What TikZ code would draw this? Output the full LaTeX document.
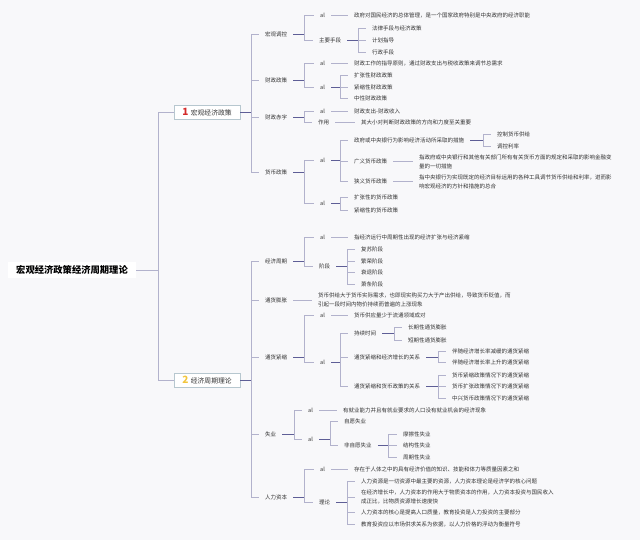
\documentclass[tikz,border=0pt]{standalone}
\usepackage{fontspec}
\setmainfont{Noto Sans CJK SC}
\definecolor{ltc}{HTML}{B2B2CC}
\definecolor{dkc}{HTML}{5E5E96}
\definecolor{tx}{HTML}{333333}
\definecolor{boxc}{HTML}{B7C7CF}
\definecolor{bg}{HTML}{F8F8FA}
\definecolor{oner}{HTML}{D42A2A}
\definecolor{twoy}{HTML}{F2C53D}
\newcommand\myfork[3]{%
  \draw[lnd] (#1.east) -- (#2,0 |- #1.east);
  \foreach \c in {#3} {\draw[lnl] (#2,0 |- #1.east) |- (\c.west);}
}
\begin{document}
\begin{tikzpicture}[x=1pt,y=-1pt,
  lnl/.style={draw=ltc, line width=0.6pt},
  lnd/.style={draw=dkc, line width=0.7pt},
  lab/.style={anchor=west, inner xsep=6pt, inner ysep=0.5pt, text=tx, font=\fontsize{5.5}{9}\selectfont, text height=4.84pt, text depth=0.66pt},
  ml/.style={anchor=west, inner xsep=6pt, inner ysep=0.5pt, text=tx, font=\fontsize{5.5}{9}\selectfont, align=left},
  br/.style={draw=boxc, fill=white, line width=0.5pt, minimum width=66pt, minimum height=14pt, inner sep=0pt, font=\fontsize{6.8}{8}\selectfont, text=tx},
  rootst/.style={fill=white, inner xsep=8pt, inner ysep=4pt, font=\fontsize{9.3}{11}\selectfont\bfseries, text=black}]
\useasboundingbox (0,0) rectangle (640,540);
\fill[bg] (0,0) rectangle (640,540);

% root and branches
\node[rootst] (root) at (72,270) {宏观经济政策经济周期理论};
\node[br] (b1) at (207,112) {\textcolor{oner}{\fontsize{10}{10}\selectfont\bfseries 1}\hspace{2.5pt}宏观经济政策};
\node[br] (b2) at (207,380) {\textcolor{twoy}{\fontsize{10}{10}\selectfont\bfseries 2}\hspace{2.5pt}经济周期理论};
\draw[lnl] (root.east) -- (158,0 |- root.east);
\draw[lnl] (158,0 |- root.east) |- (b1.west);
\draw[lnl] (158,0 |- root.east) |- (b2.west);

% ---------- branch 1 ----------
\node[lab] (n1) at (259,34) {宏观调控};
\node[lab] (n1a) at (314,15.7) {al};
\node[lab] (n1at) at (348,15.7) {政府对国民经济的总体管理，是一个国家政府特别是中央政府的经济职能};
\node[lab] (n1b) at (313,40) {主要手段};
\node[lab] (n1b1) at (366,28) {法律手段与经济政策};
\node[lab] (n1b2) at (366,40) {计划指导};
\node[lab] (n1b3) at (366,52) {行政手段};

\node[lab] (n2) at (259,80.7) {财政政策};
\node[lab] (n2a) at (314,63) {al};
\node[lab] (n2at) at (348,63) {财政工作的指导原则，通过财政支出与税收政策来调节总需求};
\node[lab] (n2b) at (314,87) {al};
\node[lab] (n2b1) at (348,75) {扩张性财政政策};
\node[lab] (n2b2) at (348,87) {紧缩性财政政策};
\node[lab] (n2b3) at (348,98.5) {中性财政政策};

\node[lab] (n3) at (259,117) {财政赤字};
\node[lab] (n3a) at (314,111) {al};
\node[lab] (n3at) at (348,111) {财政支出-财政收入};
\node[lab] (n3b) at (312,122.5) {作用};
\node[lab] (n3bt) at (355,122.5) {其大小对判断财政政策的方向和力度至关重要};

\node[lab] (n4) at (259,172) {货币政策};
\node[lab] (n4a) at (314,160) {al};
\node[lab] (n4a1) at (348,140) {政府或中央银行为影响经济活动所采取的措施};
\node[lab] (n4a1a) at (491,134) {控制货币供给};
\node[lab] (n4a1b) at (491,146) {调控利率};
\node[lab] (n4a2) at (348,161.5) {广义货币政策};
\node[ml] (n4a2t) at (413,161.5) {指政府或中央银行和其他有关部门所有有关货币方面的规定和采取的影响金融变\\量的一切措施};
\node[lab] (n4a3) at (348,181.5) {狭义货币政策};
\node[ml] (n4a3t) at (413,181.5) {指中央银行为实现既定的经济目标运用的各种工具调节货币供给和利率，进而影\\响宏观经济的方针和措施的总合};
\node[lab] (n4b) at (314,203) {al};
\node[lab] (n4b1) at (348,197) {扩张性的货币政策};
\node[lab] (n4b2) at (348,210) {紧缩性的货币政策};

\myfork{b1}{251}{n1,n2,n3,n4}
\myfork{n1}{304}{n1a,n1b}
\myfork{n1b}{358}{n1b1,n1b2,n1b3}
\myfork{n2}{304}{n2a,n2b}
\myfork{n2b}{340.7}{n2b1,n2b2,n2b3}
\myfork{n3}{304}{n3a,n3b}
\myfork{n4}{304}{n4a,n4b}
\myfork{n4a}{340.7}{n4a1,n4a2,n4a3}
\myfork{n4a1}{483}{n4a1a,n4a1b}
\myfork{n4b}{340.7}{n4b1,n4b2}
\draw[lnl] (n1a.east) -- (n1at.west);
\draw[lnl] (n2a.east) -- (n2at.west);
\draw[lnl] (n3a.east) -- (n3at.west);
\draw[lnl] (n3b.east) -- (n3bt.west);
\draw[lnl] (n4a2.east) -- (n4a2t.west);
\draw[lnl] (n4a3.east) -- (n4a3t.west);

% ---------- branch 2 ----------
\node[lab] (m1) at (259,261) {经济周期};
\node[lab] (m1a) at (314,237) {al};
\node[lab] (m1at) at (348,237) {指经济运行中周期性出现的经济扩张与经济紧缩};
\node[lab] (m1b) at (313,266) {阶段};
\node[lab] (m1b1) at (355,249) {复苏阶段};
\node[lab] (m1b2) at (355,261) {繁荣阶段};
\node[lab] (m1b3) at (355,272.5) {衰退阶段};
\node[lab] (m1b4) at (355,284) {萧条阶段};

\node[lab] (m2) at (259,300) {通货膨胀};
\node[ml] (m2t) at (312,300) {货币供给大于货币实际需求，也即现实购买力大于产出供给，导致货币贬值，而\\引起一段时间内物价持续而普遍的上涨现象};

\node[lab] (m3) at (259,357) {通货紧缩};
\node[lab] (m3a) at (314,315) {al};
\node[lab] (m3at) at (348,315) {货币供应量少于流通领域成对};
\node[lab] (m3b) at (314,362) {al};
\node[lab] (m3b1) at (348,333.3) {持续时间};
\node[lab] (m3b1a) at (402,327) {长期性通货膨胀};
\node[lab] (m3b1b) at (402,340) {短期性通货膨胀};
\node[lab] (m3b2) at (348,357) {通货紧缩和经济增长的关系};
\node[lab] (m3b2a) at (446,351) {伴随经济增长率减缓的通货紧缩};
\node[lab] (m3b2b) at (446,362.5) {伴随经济增长率上升的通货紧缩};
\node[lab] (m3b3) at (348,386.7) {通货紧缩和货币政策的关系};
\node[lab] (m3b3a) at (446,375) {货币紧缩政策情况下的通货紧缩};
\node[lab] (m3b3b) at (446,386.7) {货币扩张政策情况下的通货紧缩};
\node[lab] (m3b3c) at (446,398.3) {中兴货币政策情况下的通货紧缩};

\node[lab] (m4) at (259,434) {失业};
\node[lab] (m4a) at (302,410) {al};
\node[lab] (m4at) at (337,410) {有就业能力并且有就业要求的人口没有就业机会的经济现象};
\node[lab] (m4b) at (302,439.3) {al};
\node[lab] (m4b1) at (338,421.7) {自愿失业};
\node[lab] (m4b2) at (338,445.7) {非自愿失业};
\node[lab] (m4b2a) at (397,434) {摩擦性失业};
\node[lab] (m4b2b) at (397,445.7) {结构性失业};
\node[lab] (m4b2c) at (397,457.3) {周期性失业};

\node[lab] (m5) at (259,497.3) {人力资本};
\node[lab] (m5a) at (314,469.3) {al};
\node[lab] (m5at) at (348,469.3) {存在于人体之中的具有经济价值的知识、技能和体力等质量因素之和};
\node[lab] (m5b) at (313,502.3) {理论};
\node[lab] (m5b1) at (355,481.7) {人力资源是一切资源中最主要的资源，人力资本理论是经济学的核心问题};
\node[ml] (m5b2) at (355,497.3) {在经济增长中，人力资本的作用大于物质资本的作用，人力资本投资与国民收入\\成正比，比物质资源增长速度快};
\node[lab] (m5b3) at (355,512.3) {人力资本的核心是提高人口质量，教育投资是人力投资的主要部分};
\node[lab] (m5b4) at (355,524.3) {教育投资应以市场供求关系为依据，以人力价格的浮动为衡量符号};

\myfork{b2}{251}{m1,m2,m3,m4,m5}
\myfork{m1}{304}{m1a,m1b}
\myfork{m1b}{347}{m1b1,m1b2,m1b3,m1b4}
\myfork{m3}{304}{m3a,m3b}
\myfork{m3b}{340.7}{m3b1,m3b2,m3b3}
\myfork{m3b1}{394}{m3b1a,m3b1b}
\myfork{m3b2}{438}{m3b2a,m3b2b}
\myfork{m3b3}{438}{m3b3a,m3b3b,m3b3c}
\myfork{m4}{294}{m4a,m4b}
\myfork{m4b}{330}{m4b1,m4b2}
\myfork{m4b2}{388}{m4b2a,m4b2b,m4b2c}
\myfork{m5}{304}{m5a,m5b}
\myfork{m5b}{347}{m5b1,m5b2,m5b3,m5b4}
\draw[lnl] (m1a.east) -- (m1at.west);
\draw[lnl] (m2.east) -- (m2t.west);
\draw[lnl] (m3a.east) -- (m3at.west);
\draw[lnl] (m4a.east) -- (m4at.west);
\draw[lnl] (m5a.east) -- (m5at.west);
\end{tikzpicture}
\end{document}
